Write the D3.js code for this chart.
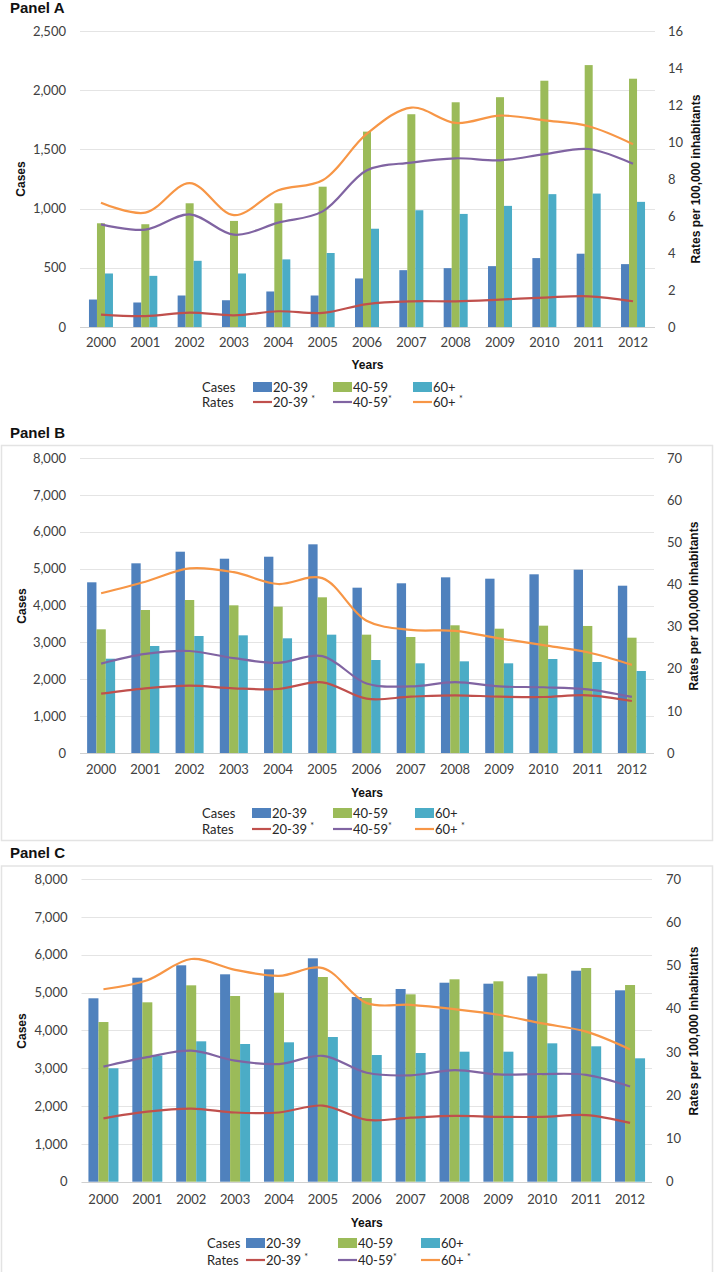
<!DOCTYPE html>
<html>
<head>
<meta charset="utf-8">
<script src="https://cdn.jsdelivr.net/npm/d3@7"></script>
<style>
  html, body { margin: 0; padding: 0; background: #fff; }
  svg { display: block; }
</style>
</head>
<body>
<svg id="chart" width="714" height="1272"></svg>
<script>
// ---------- DATA ----------
const years = ["2000","2001","2002","2003","2004","2005","2006","2007","2008","2009","2010","2011","2012"];
const ageGroups = ["20-39", "40-59", "60+"];

// Panel A
const panelA_cases_20_39 = [232, 207, 266, 226, 300, 266, 410, 480, 497, 514, 582, 619, 531];
const panelA_cases_40_59 = [876, 868, 1045, 896, 1045, 1185, 1650, 1797, 1898, 1941, 2080, 2212, 2097];
const panelA_cases_60p   = [452, 432, 559, 452, 571, 625, 830, 986, 955, 1023, 1122, 1127, 1057];
const panelA_rates_20_39 = [0.67, 0.59, 0.78, 0.63, 0.85, 0.76, 1.24, 1.39, 1.39, 1.48, 1.59, 1.66, 1.39];
const panelA_rates_40_59 = [5.55, 5.26, 6.09, 4.99, 5.64, 6.25, 8.47, 8.89, 9.12, 9.01, 9.34, 9.62, 8.83];
const panelA_rates_60p   = [6.72, 6.18, 7.78, 6.05, 7.39, 7.93, 10.45, 11.86, 11.03, 11.43, 11.17, 10.85, 9.88];
const panelA_caseTicks = [0, 500, 1000, 1500, 2000, 2500];
const panelA_rateTicks = [0, 2, 4, 6, 8, 10, 12, 14, 16];

// Panel B
const panelB_cases_20_39 = [4629, 5144, 5459, 5269, 5323, 5659, 4483, 4602, 4764, 4727, 4846, 4971, 4537];
const panelB_cases_40_59 = [3354, 3878, 4149, 4005, 3968, 4222, 3209, 3146, 3463, 3371, 3453, 3445, 3127];
const panelB_cases_60p   = [2557, 2902, 3173, 3191, 3110, 3209, 2522, 2432, 2486, 2432, 2549, 2468, 2224];
const panelB_rates_20_39 = [14.07, 15.35, 15.97, 15.35, 15.19, 16.77, 12.89, 13.37, 13.69, 13.37, 13.29, 13.69, 12.34];
const panelB_rates_40_59 = [21.2, 23.5, 24.2, 22.5, 21.4, 23.0, 16.5, 15.8, 16.8, 15.8, 15.6, 15.1, 13.3];
const panelB_rates_60p   = [37.9, 40.65, 43.8, 42.9, 40.1, 41.5, 31.4, 29.2, 29.0, 27.2, 25.6, 23.9, 20.9];
const panelB_caseTicks = [0, 1000, 2000, 3000, 4000, 5000, 6000, 7000, 8000];
const panelB_rateTicks = [0, 10, 20, 30, 40, 50, 60, 70];

// Panel C
const panelC_cases_20_39 = [4847, 5391, 5719, 5481, 5613, 5904, 4881, 5093, 5259, 5233, 5428, 5576, 5058];
const panelC_cases_40_59 = [4220, 4741, 5190, 4908, 4995, 5410, 4855, 4952, 5349, 5296, 5497, 5647, 5198];
const panelC_cases_60p   = [2997, 3330, 3710, 3639, 3684, 3824, 3348, 3401, 3436, 3436, 3657, 3578, 3261];
const panelC_rates_20_39 = [14.66, 16.2, 16.9, 16.0, 16.0, 17.6, 14.3, 14.8, 15.2, 15.0, 15.0, 15.4, 13.6];
const panelC_rates_40_59 = [26.6, 28.8, 30.3, 28.0, 27.2, 29.1, 25.2, 24.6, 25.8, 24.8, 24.9, 24.7, 22.0];
const panelC_rates_60p   = [44.5, 46.6, 51.5, 49.0, 47.6, 49.4, 41.3, 40.9, 39.9, 38.6, 36.6, 34.7, 30.6];
const panelC_caseTicks = [0, 1000, 2000, 3000, 4000, 5000, 6000, 7000, 8000];
const panelC_rateTicks = [0, 10, 20, 30, 40, 50, 60, 70];

// ---------- STYLE ----------
const barColors  = ["#4F81BD", "#9BBB59", "#4BACC6"];
const lineColors = ["#C0504D", "#8064A2", "#F79646"];
const tickFont = "Lato, 'Open Sans', sans-serif";
const boldFont = "'Liberation Sans', Arial, sans-serif";

const svg = d3.select("#chart");

// panel frames (B and C)
svg.append("rect").attr("x", 1.5).attr("y", 445.5).attr("width", 711).attr("height", 395)
  .attr("fill", "none").attr("stroke", "#e3e3e3").attr("stroke-width", 1.5);
svg.append("rect").attr("x", 1.5).attr("y", 866).attr("width", 711).attr("height", 410)
  .attr("fill", "none").attr("stroke", "#e3e3e3").attr("stroke-width", 1.5);

function drawPanel(cfg) {
  const g = svg.append("g");
  const x = d3.scaleBand().domain(years).range([cfg.x0, cfg.x1]);
  const bw = x.bandwidth();
  const xSub = d3.scaleBand().domain(ageGroups).range([(bw - cfg.groupW) / 2, (bw + cfg.groupW) / 2]);
  const yL = d3.scaleLinear().domain([0, d3.max(cfg.caseTicks)]).range([cfg.yBottom, cfg.yTop]);
  const yR = d3.scaleLinear().domain([0, d3.max(cfg.rateTicks)]).range([cfg.yBottom, cfg.yTop]);

  // title
  g.append("text").attr("x", 10).attr("y", cfg.titleY)
    .attr("font-family", boldFont).attr("font-weight", "bold").attr("font-size", 15)
    .attr("fill", "#111").text(cfg.title);

  // gridlines
  g.append("g").selectAll("line").data(cfg.caseTicks).join("line")
    .attr("x1", cfg.gx0).attr("x2", cfg.gx1)
    .attr("y1", d => Math.round(yL(d)) + 0.5).attr("y2", d => Math.round(yL(d)) + 0.5)
    .attr("stroke", d => d === 0 ? "#d0d0d0" : "#e4e4e4").attr("stroke-width", 1.2);

  // left axis
  const axL = d3.axisLeft(yL).tickValues(cfg.caseTicks).tickFormat(d3.format(",")).tickSize(0).tickPadding(0);
  const gL = g.append("g").attr("transform", `translate(${cfg.leftLabelX},0)`).call(axL);
  gL.select(".domain").remove();
  gL.selectAll("text").attr("font-family", tickFont).attr("font-size", 13).attr("fill", "#404040");

  // right axis
  const axR = d3.axisRight(yR).tickValues(cfg.rateTicks).tickSize(0).tickPadding(0);
  const gR = g.append("g").attr("transform", `translate(${cfg.rightLabelX},0)`).call(axR);
  gR.select(".domain").remove();
  gR.selectAll("text").attr("font-family", tickFont).attr("font-size", 13).attr("fill", "#404040");

  // bottom axis (year labels)
  const axB = d3.axisBottom(x).tickSize(0).tickPadding(0);
  const gB = g.append("g").attr("transform", `translate(0,${cfg.yearY})`).call(axB);
  gB.select(".domain").remove();
  gB.selectAll("text").attr("font-family", tickFont).attr("font-size", 13).attr("fill", "#404040");

  // bars
  const caseSeries = [cfg.cases20, cfg.cases40, cfg.cases60];
  caseSeries.forEach((vals, si) => {
    g.append("g").selectAll("rect").data(vals).join("rect")
      .attr("x", (d, i) => x(years[i]) + xSub(ageGroups[si]))
      .attr("width", xSub.bandwidth())
      .attr("y", d => yL(d))
      .attr("height", d => yL(0) - yL(d))
      .attr("fill", barColors[si]);
  });

  // lines
  const rateSeries = [cfg.rates20, cfg.rates40, cfg.rates60];
  const line = d3.line()
    .x((d, i) => x(years[i]) + bw / 2)
    .y(d => yR(d))
    .curve(d3.curveCatmullRom.alpha(0.5));
  rateSeries.forEach((vals, si) => {
    g.append("path").datum(vals).attr("d", line)
      .attr("fill", "none").attr("stroke", lineColors[si]).attr("stroke-width", 2.2);
  });

  // axis titles
  g.append("text").attr("transform", `translate(${cfg.casesTitleX},${cfg.axisTitleY}) rotate(-90)`)
    .attr("text-anchor", "middle").attr("font-family", boldFont).attr("font-weight", "bold")
    .attr("font-size", 12).attr("fill", "#111").text("Cases");
  g.append("text").attr("transform", `translate(${cfg.ratesTitleX},${cfg.axisTitleY}) rotate(-90)`)
    .attr("text-anchor", "middle").attr("font-family", boldFont).attr("font-weight", "bold")
    .attr("font-size", 12).attr("fill", "#111").text("Rates per 100,000 inhabitants");
  g.append("text").attr("x", (cfg.gx0 + cfg.gx1) / 2).attr("y", cfg.yearsTitleY)
    .attr("text-anchor", "middle").attr("font-family", boldFont).attr("font-weight", "bold")
    .attr("font-size", 12).attr("fill", "#111").text("Years");

  // legend
  const lg = g.append("g").attr("font-family", tickFont).attr("font-size", 13).attr("fill", "#262626");
  lg.append("text").attr("x", cfg.legX).attr("y", cfg.legY1 + 4.5).text("Cases");
  lg.append("text").attr("x", cfg.legX).attr("y", cfg.legY2 + 4.5).text("Rates");
  ageGroups.forEach((ag, i) => {
    const sx = cfg.legSwX[i];
    lg.append("rect").attr("x", sx).attr("y", cfg.legY1 - 5).attr("width", 19).attr("height", 10)
      .attr("fill", barColors[i]);
    lg.append("text").attr("x", sx + 20).attr("y", cfg.legY1 + 4.5).text(ag);
    lg.append("line").attr("x1", sx).attr("x2", sx + 19).attr("y1", cfg.legY2).attr("y2", cfg.legY2)
      .attr("stroke", lineColors[i]).attr("stroke-width", 2.2);
    const t = lg.append("text").attr("x", sx + 20).attr("y", cfg.legY2 + 4.5);
    t.append("tspan").text(ag + (i === 1 ? "" : " "));
    t.append("tspan").attr("dy", -5).attr("font-size", 9).text("*");
  });
}

drawPanel({
  title: "Panel A", titleY: 13,
  x0: 78.8, x1: 655.2, groupW: 24, gx0: 80, gx1: 655,
  yTop: 31, yBottom: 327,
  leftLabelX: 66, rightLabelX: 668, yearY: 338, yearsTitleY: 369,
  casesTitleX: 25, ratesTitleX: 700, axisTitleY: 179,
  legX: 202, legY1: 387, legY2: 402, legSwX: [253, 333, 413],
  caseTicks: panelA_caseTicks, rateTicks: panelA_rateTicks,
  cases20: panelA_cases_20_39, cases40: panelA_cases_40_59, cases60: panelA_cases_60p,
  rates20: panelA_rates_20_39, rates40: panelA_rates_40_59, rates60: panelA_rates_60p
});

drawPanel({
  title: "Panel B", titleY: 438,
  x0: 79, x1: 654, groupW: 28, gx0: 80, gx1: 654,
  yTop: 458, yBottom: 753,
  leftLabelX: 66, rightLabelX: 667, yearY: 765, yearsTitleY: 797,
  casesTitleX: 26, ratesTitleX: 698, axisTitleY: 606,
  legX: 202, legY1: 813, legY2: 829, legSwX: [252, 333, 415],
  caseTicks: panelB_caseTicks, rateTicks: panelB_rateTicks,
  cases20: panelB_cases_20_39, cases40: panelB_cases_40_59, cases60: panelB_cases_60p,
  rates20: panelB_rates_20_39, rates40: panelB_rates_40_59, rates60: panelB_rates_60p
});

drawPanel({
  title: "Panel C", titleY: 858,
  x0: 81.5, x1: 652, groupW: 30, gx0: 81.5, gx1: 652,
  yTop: 879, yBottom: 1181.7,
  leftLabelX: 67.5, rightLabelX: 666, yearY: 1195, yearsTitleY: 1227,
  casesTitleX: 26, ratesTitleX: 698, axisTitleY: 1031,
  legX: 207, legY1: 1243, legY2: 1260, legSwX: [246, 338, 421],
  caseTicks: panelC_caseTicks, rateTicks: panelC_rateTicks,
  cases20: panelC_cases_20_39, cases40: panelC_cases_40_59, cases60: panelC_cases_60p,
  rates20: panelC_rates_20_39, rates40: panelC_rates_40_59, rates60: panelC_rates_60p
});
</script>
</body>
</html>
